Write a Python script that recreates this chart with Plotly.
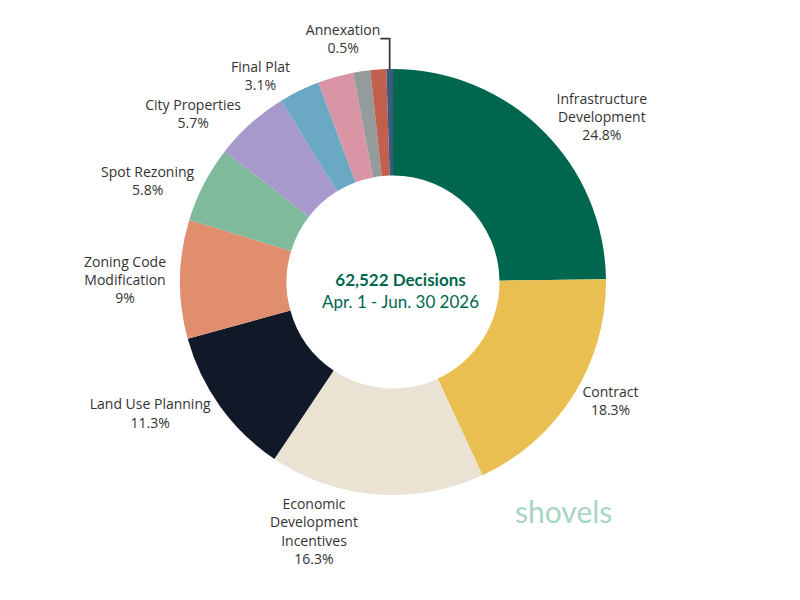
import plotly.graph_objects as go

categories = ["Infrastructure Development", "Contract", "Economic Development Incentives",
              "Land Use Planning", "Zoning Code Modification", "Spot Rezoning",
              "City Properties", "Final Plat", "Other A", "Other B", "Other C", "Annexation"]
label_text = ["Infrastructure<br>Development<br>24.8%", "Contract<br>18.3%",
              "Economic<br>Development<br>Incentives<br>16.3%", "Land Use Planning<br>11.3%",
              "Zoning Code<br>Modification<br>9%", "Spot Rezoning<br>5.8%",
              "City Properties<br>5.7%", "Final Plat<br>3.1%", "", "", "", "Annexation<br>0.5%"]
values = [24.8, 18.3, 16.3, 11.3, 9.0, 5.8, 5.7, 3.1, 2.7, 1.3, 1.2, 0.5]
colors = ["#00674F", "#E8BF50", "#EAE3D3", "#111827", "#E08E6D", "#7FBA9C",
          "#A799CC", "#6AA8C4", "#D995A5", "#949C9B", "#C2604D", "#3A5A80"]

L, R, T, B = 172, 202, 61, 113
pw = 800 - L - R
ph = 600 - T - B


def px(x):
    return (x - L) / pw


def py(y):
    return (600 - B - y) / ph


fig = go.Figure(go.Pie(
    labels=categories, values=values, text=label_text,
    texttemplate="%{text}", textinfo="text", textposition="outside",
    hole=0.5, sort=False, direction="clockwise", rotation=0,
    marker=dict(colors=colors, line=dict(width=0)),
    outsidetextfont=dict(family="Open Sans", size=14, color="#333333"),
    showlegend=False, domain=dict(x=[0, 1], y=[0, 1]),
))
fig.add_annotation(x=px(392), y=py(282), xref="paper", yref="paper",
                   xanchor="center", yanchor="middle",
                   text="<b>62,522 Decisions</b><br>Apr. 1 - Jun. 30 2026",
                   showarrow=False, font=dict(family="Lato", size=17, color="#00674F"))
fig.add_annotation(x=px(555), y=py(503), xref="paper", yref="paper",
                   xanchor="center", yanchor="middle",
                   text="shovels", showarrow=False,
                   font=dict(family="Lato", size=30, color="#A8D5C4"))
fig.update_layout(width=800, height=600, paper_bgcolor="white",
                  margin=dict(l=L, r=R, t=T, b=B))
fig.write_html("out.html")
